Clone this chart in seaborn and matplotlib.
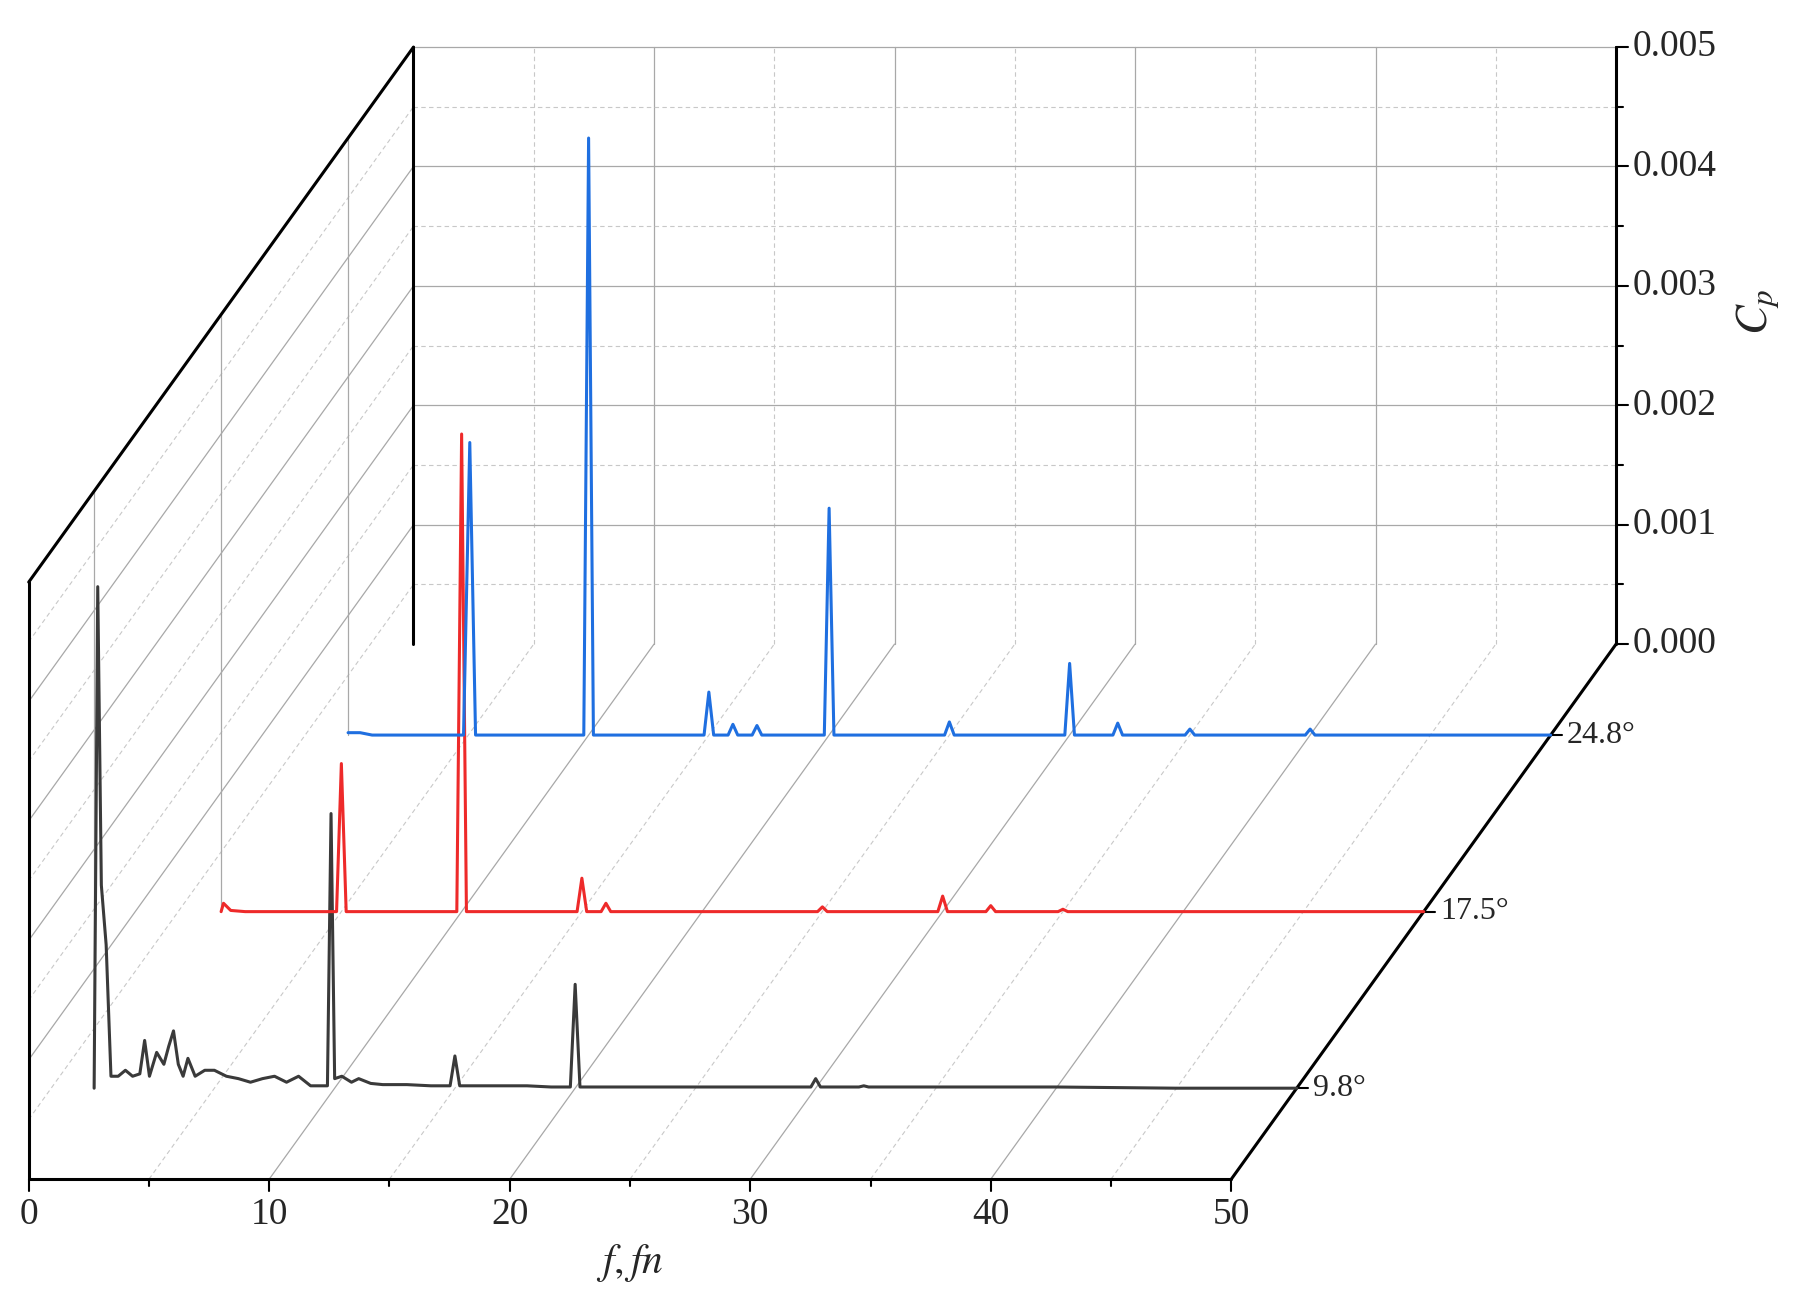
import numpy as np
import matplotlib
matplotlib.use("Agg")
import matplotlib.pyplot as plt
import matplotlib.transforms as mtransforms
import seaborn as sns

sns.set_style("white")
plt.rcParams['font.family'] = ['Liberation Serif', 'DejaVu Serif']
plt.rcParams['mathtext.fontset'] = 'stix'

angles = ["9.8°", "17.5°", "24.8°"]
depths = [0.17, 0.5, 0.83]
colors = ["#3a3a3a", "#ee2a2a", "#1f6fe0"]

f_black = [0.0, 0.15, 0.3, 0.5, 0.7, 1.0, 1.3, 1.6, 1.9, 2.1, 2.3, 2.6, 2.9, 3.1, 3.3, 3.5, 3.7, 3.9, 4.2, 4.6, 5.0, 5.5, 6.0, 6.5, 7.0, 7.5, 8.0, 8.5, 9.0, 9.7, 9.85, 10.0, 10.3, 10.7, 11.0, 11.5, 12.0, 13.0, 14.0, 14.8, 15.0, 15.2, 16.0, 17.0, 18.0, 19.0, 19.8, 20.0, 20.2, 21.0, 24.0, 27.0, 29.8, 30.0, 30.2, 31.8, 32.0, 32.2, 35.0, 40.0, 45.0, 50.0]
cp_black = [0.0, 0.0042, 0.0017, 0.0012, 0.0001, 0.0001, 0.00015, 0.0001, 0.00012, 0.0004, 0.0001, 0.0003, 0.0002, 0.00035, 0.00048, 0.0002, 0.0001, 0.00025, 0.0001, 0.00015, 0.00015, 0.0001, 0.00008, 0.00005, 0.00008, 0.0001, 0.00005, 0.0001, 0.00002, 0.00002, 0.0023, 0.00008, 0.0001, 0.00005, 0.00008, 0.00004, 0.00003, 0.00003, 0.00002, 0.00002, 0.00027, 0.00002, 0.00002, 0.00002, 0.00002, 0.00001, 0.00001, 0.00087, 0.00001, 0.00001, 0.00001, 0.00001, 0.00001, 0.00008, 0.00001, 0.00001, 0.00002, 0.00001, 0.00001, 0.00001, 0.0, 0.0]

f_red = [0.0, 0.1, 0.4, 1.0, 4.8, 5.0, 5.2, 9.8, 10.0, 10.2, 14.8, 15.0, 15.2, 15.8, 16.0, 16.2, 24.8, 25.0, 25.2, 29.8, 30.0, 30.2, 31.8, 32.0, 32.2, 34.8, 35.0, 35.2, 50.0]
cp_red = [0.0, 0.00007, 0.00001, 0.0, 0.0, 0.00124, 0.0, 0.0, 0.0040, 0.0, 0.0, 0.00028, 0.0, 0.0, 0.00007, 0.0, 0.0, 0.00004, 0.0, 0.0, 0.00013, 0.0, 0.0, 0.00005, 0.0, 0.0, 0.00002, 0.0, 0.0]

f_blue = [0.0, 0.5, 1.0, 4.8, 5.06, 5.3, 9.8, 10.0, 10.2, 14.8, 15.0, 15.2, 15.8, 16.0, 16.2, 16.8, 17.0, 17.2, 19.8, 20.0, 20.2, 24.8, 25.0, 25.2, 29.8, 30.0, 30.2, 31.8, 32.0, 32.2, 34.8, 35.0, 35.2, 39.8, 40.0, 40.2, 50.0]
cp_blue = [0.00002, 0.00002, 0.0, 0.0, 0.00245, 0.0, 0.0, 0.0050, 0.0, 0.0, 0.00036, 0.0, 0.0, 0.00009, 0.0, 0.0, 0.00008, 0.0, 0.0, 0.0019, 0.0, 0.0, 0.00011, 0.0, 0.0, 0.0006, 0.0, 0.0, 0.0001, 0.0, 0.0, 0.00005, 0.0, 0.0, 0.00005, 0.0, 0.0]

series = [(f_black, cp_black), (f_red, cp_red), (f_blue, cp_blue)]

f_ticks = [0, 10, 20, 30, 40, 50]
cp_ticks = [0.000, 0.001, 0.002, 0.003, 0.004, 0.005]

fig = plt.figure(figsize=(18.01, 13.02), dpi=100)
ax = fig.add_axes([0, 0, 1, 1])
ax.set_xlim(0, 1568)
ax.set_ylim(1134, 0)
ax.axis("off")

X0, Y0, SX, SY, DX, DY = 25, 1027, 20.94, 104000, 335, 466

def tr(d):
    return mtransforms.Affine2D().scale(SX, -SY).translate(X0 + d * DX, Y0 - d * DY) + ax.transData

g_solid = dict(color="#a8a8a8", lw=0.9)
g_dash = dict(color="#c8c8c8", lw=0.8, ls=(0, (4, 3)))
tb = tr(1.0)
tf = tr(0.0)
for f in range(0, 51, 5):
    st = g_solid if f % 10 == 0 else g_dash
    ax.plot([f, f], [0, 0.005], transform=tb, **st)
for c in np.arange(0.0005, 0.0051, 0.0005):
    st = g_solid if round(c * 10000) % 10 == 0 else g_dash
    ax.plot([0, 50], [c, c], transform=tb, **st)
for f in range(5, 51, 5):
    st = g_solid if f % 10 == 0 else g_dash
    ax.plot([X0 + f * SX, X0 + f * SX + DX], [Y0, Y0 - DY], **st)
for c in np.arange(0.0005, 0.0051, 0.0005):
    st = g_solid if round(c * 10000) % 10 == 0 else g_dash
    ax.plot([X0, X0 + DX], [Y0 - c * SY, Y0 - c * SY - DY], **st)
for d in depths:
    ax.plot([0, 0], [0, 0.005], transform=tr(d), **g_solid)
k = dict(color="black", lw=2.2)
ax.plot([0, 50], [0, 0], transform=tf, **k)
ax.plot([0, 0], [0, 0.005], transform=tf, **k)
ax.plot([X0, X0 + DX], [Y0 - 0.005 * SY, Y0 - 0.005 * SY - DY], **k)
ax.plot([0, 0], [0, 0.005], transform=tb, **k)
ax.plot([50, 50], [0, 0.005], transform=tb, **k)
ax.plot([X0 + 50 * SX, X0 + 50 * SX + DX], [Y0, Y0 - DY], **k)

for f in range(0, 51, 5):
    L = 10 if f % 10 == 0 else 6
    ax.plot([X0 + f * SX] * 2, [Y0, Y0 + L], color="black", lw=1.5)
for f in f_ticks:
    ax.text(X0 + f * SX, Y0 + 16, str(f), ha="center", va="top", fontsize=27)
ax.text(X0 + 25 * SX, Y0 + 55, r"$f,fn$", ha="center", va="top", fontsize=30)
xb = X0 + 50 * SX + DX
for c in np.arange(0, 0.00501, 0.0005):
    L = 10 if round(c * 10000) % 10 == 0 else 6
    y = Y0 - DY - c * SY
    ax.plot([xb, xb + L], [y, y], color="black", lw=1.5)
for c in cp_ticks:
    ax.text(xb + 14, Y0 - DY - c * SY, f"{c:.3f}", ha="left", va="center", fontsize=27)
ax.text(1530, 272, r"$C_p$", rotation=90, ha="center", va="center", fontsize=32)
for d, lab in zip(depths, angles):
    x = X0 + 50 * SX + d * DX
    y = Y0 - d * DY
    ax.plot([x, x + 10], [y, y], color="black", lw=1.5)
    ax.text(x + 14, y, lab, ha="left", va="center", fontsize=23)

for (fs, cs), d, col in zip(series, depths, colors):
    ax.plot(fs, cs, transform=tr(d), color=col, lw=2.2, zorder=5)

fig.savefig("out.png", dpi=100)
